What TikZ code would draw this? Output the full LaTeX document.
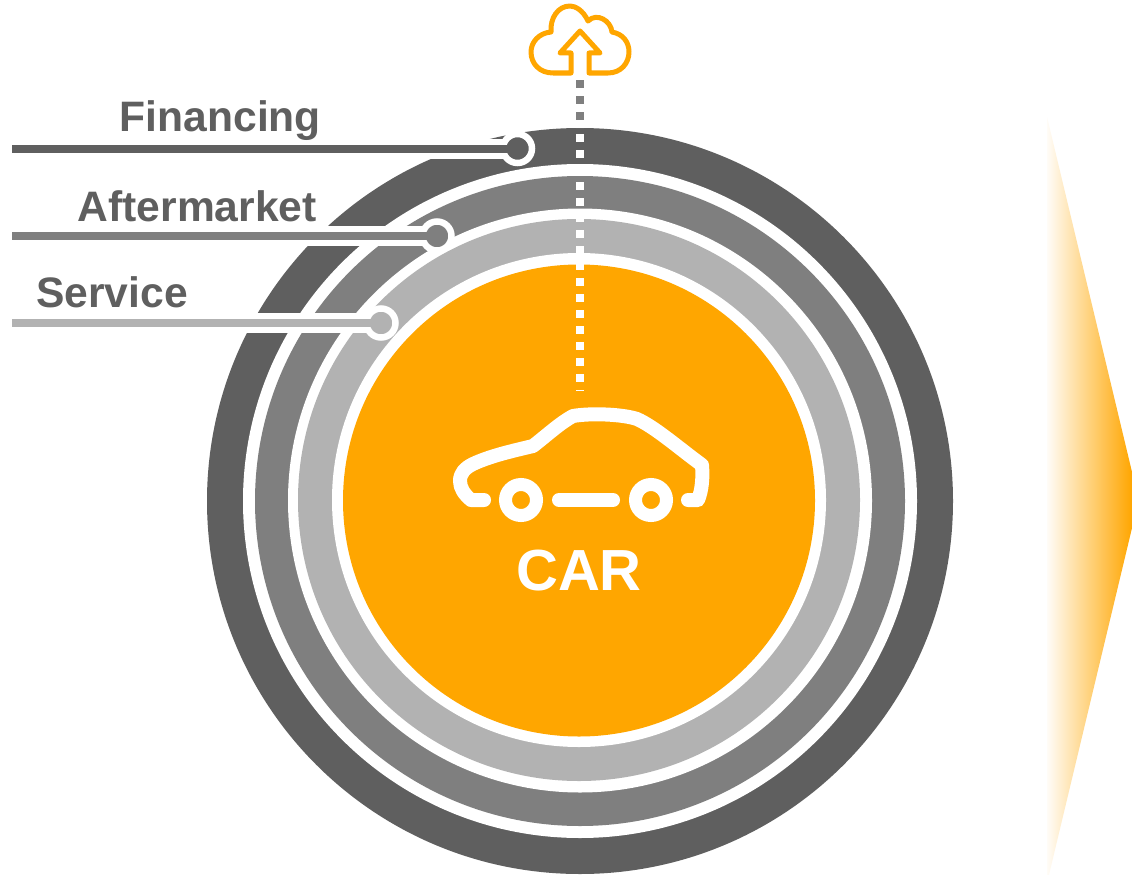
\documentclass[tikz,border=0pt]{standalone}
\usepackage{fontspec}
\setmainfont{Liberation Sans}
\definecolor{carorange}{HTML}{FFA600}
\definecolor{darkring}{HTML}{5F5F5F}
\definecolor{midring}{HTML}{7F7F7F}
\definecolor{lightring}{HTML}{B2B2B2}
\tikzset{
  disc/.style={circle,inner sep=0pt,outer sep=0pt,minimum size=#1},
  label text/.style={anchor=base west,inner sep=0pt,text=darkring,font=\fontsize{42.6}{50}\selectfont\bfseries},
  band/.style={white,line width=20pt},
  lead/.style={line width=8pt},
  dot/.style={circle,inner sep=0pt,outer sep=0pt,minimum size=29pt,draw=white,line width=6.5pt},
  dashline/.style={line width=8pt,dash pattern=on 8pt off 8pt},
  carline/.style={white,line width=14pt,line cap=round,line join=round},
  cloudline/.style={carorange,line width=5pt,line join=round}
}
\begin{document}
\begin{tikzpicture}[x=1pt,y=-1pt]
\useasboundingbox (0,0) rectangle (1132,875);
\fill[white] (0,0) rectangle (1132,875);
% gradient chevron
\shade[left color=carorange!3,right color=carorange] (1047,117) -- (1132,472) -- (1132,528) -- (1047,883) -- cycle;
% rings
\node[disc=746pt,fill=darkring] (r1) at (580,501) {};
\node[disc=674pt,fill=white] (w1) at (580,501) {};
\node[disc=650pt,fill=midring] (r2) at (580,501) {};
\node[disc=584pt,fill=white] (w2) at (580,500.5) {};
\node[disc=562pt,fill=lightring] (r3) at (579,500) {};
\node[disc=494pt,fill=white] (w3) at (579,500) {};
\node[disc=472pt,fill=carorange] (core) at (579,500.5) {};
% leads
\coordinate (fs) at (12,148.5);
\coordinate (as) at (12,236);
\coordinate (ss) at (12,323);
\coordinate (fd) at (517.5,148.5);
\coordinate (ad) at (437,236);
\coordinate (sd) at (381,323);
\draw[band] (fs) -- (fd);
\draw[band] (as) -- (ad);
\draw[band] (ss) -- (sd);
\node[dot,fill=darkring] (fdot) at (fd) {};
\node[dot,fill=midring] (adot) at (ad) {};
\node[dot,fill=lightring] (sdot) at (sd) {};
\draw[lead,darkring] (fs) -- (fdot.center);
\draw[lead,midring] (as) -- (adot.center);
\draw[lead,lightring] (ss) -- (sdot.center);
% labels
\node[label text] (fl) at (119.5,131) {Financing};
\node[label text] (al) at (77.5,221) {Aftermarket};
\node[label text] (sl) at (36,307) {Service};
% dotted link
\coordinate (c1) at (580,80);
\coordinate (c2) at (580,128);
\coordinate (c3) at (580,134);
\coordinate (c4) at (580,391);
\draw[dashline,midring] (c1) -- (c2);
\draw[dashline,white] (c3) -- (c4);
% cloud
\draw[cloudline] (571,73) -- (571,53) -- (560,53) -- (580,31) -- (600,53) -- (589,53) -- (589,73)
  -- (608,73) .. controls (621,73) and (629,63) .. (629,52)
  .. controls (629,42) and (623,34) .. (612,32)
  .. controls (611,21) and (597,12) .. (588,21)
  .. controls (583,10) and (575,6) .. (570,6)
  .. controls (558,6) and (550,18) .. (551,32)
  .. controls (539,33) and (531,42) .. (531,52)
  .. controls (531,64) and (540,73) .. (553,73) -- cycle;
% car
\draw[carline] (484,500) -- (471,500) .. controls (464,494) and (460,488) .. (460,481)
  .. controls (460,473) and (465,468) .. (473,464)
  .. controls (490,456) and (512,451) .. (533,446)
  .. controls (546,436) and (560,423) .. (573,416)
  .. controls (590,413) and (622,414) .. (637,419)
  .. controls (655,427) and (680,449) .. (702,465)
  .. controls (703,478) and (702,490) .. (698,500) -- (688,500);
\node[disc=31pt,draw=white,line width=13pt] (w1c) at (521,500) {};
\node[disc=31pt,draw=white,line width=13pt] (w2c) at (651,500) {};
\draw[carline] (w1c.center) ++(38,0) -- ++(54,0);
\node[anchor=base,inner sep=0pt,text=white,font=\fontsize{58}{60}\selectfont\bfseries] (cl) at (579,590.5) {CAR};
\end{tikzpicture}
\end{document}
